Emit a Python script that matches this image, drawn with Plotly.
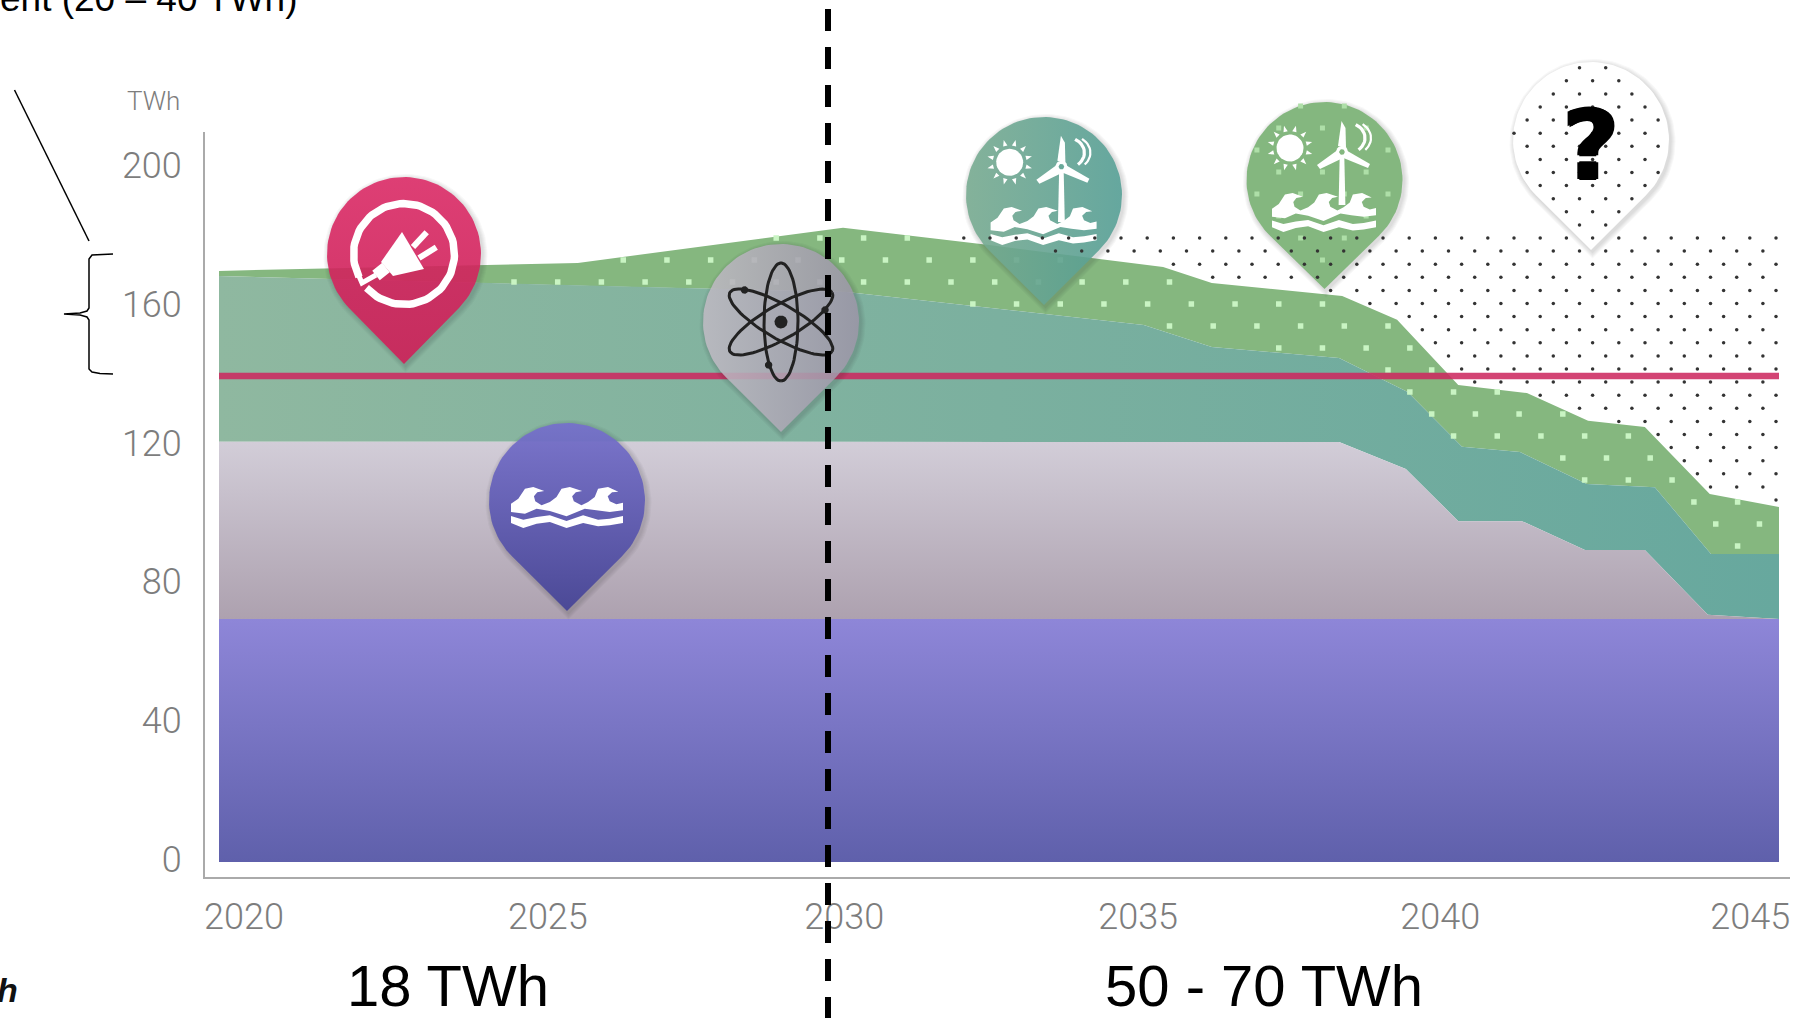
import numpy as np
import plotly.graph_objects as go

# Supply stack boundaries in TWh, one list of years per boundary
base_years = [2020, 2045]
base_twh = [70, 70]

hydro_years = [2020, 2037.95, 2039.02, 2039.86, 2040.88, 2041.89, 2042.85, 2043.86, 2045]
hydro_twh = [121.1, 121.0, 113.2, 98.2, 98.2, 89.9, 89.9, 71.2, 70.0]

nuclear_years = [2020, 2026.1, 2030.06, 2034.82, 2035.91, 2037.95, 2039.05, 2039.92,
                 2040.85, 2041.92, 2043.01, 2043.91, 2045]
nuclear_twh = [168.8, 165.9, 164.2, 154.7, 148.4, 145.2, 135.4, 119.6,
               118.1, 108.9, 108.0, 88.7, 88.7]

wind_years = [2020, 2025.75, 2030.0, 2032.31, 2035.13, 2035.91, 2038.0, 2038.88, 2039.86,
              2040.96, 2041.94, 2042.85, 2043.89, 2045]
wind_twh = [170.3, 172.6, 182.7, 177.8, 171.4, 166.8, 163.1, 156.2, 137.4,
            135.1, 127.1, 125.3, 106.0, 102.3]

demand_years = [2020, 2045]
demand_twh = [140, 140]

y_ticks = [0, 40, 80, 120, 160, 200]
y_tick_positions = [0.7, 40.7, 80.7, 120.7, 160.7, 200.7]
x_tick_positions = [2020.4, 2025.27, 2030.02, 2034.73, 2039.57, 2044.54]
x_tick_labels = ["2020", "2025", "2030", "2035", "2040", "2045"]

PAGE_W, PAGE_H = 1795, 1018
PX_PER_YEAR, PX_PER_TWH = 62.4, 3.471
X_2020, Y_ZERO = 219.0, 862.0

GREY = "#7d7d7d"
LIGHT_FONT = "Roboto"
BODY_FONT = "Liberation Sans"


def twh_to_px(twh):
    return Y_ZERO - np.asarray(twh, float) * PX_PER_TWH


def px_to_year(px):
    return 2020 + (px - X_2020) / PX_PER_YEAR


def px_to_twh(py):
    return (Y_ZERO - py) / PX_PER_TWH


fig = go.Figure()


def band(upper_x, upper_y, lower_x, lower_y, gradient=None, colour=None):
    xs = list(upper_x) + list(lower_x)[::-1]
    ys = list(upper_y) + list(lower_y)[::-1]
    kw = dict(fillgradient=gradient) if gradient else dict(fillcolor=colour)
    fig.add_trace(go.Scatter(x=xs, y=ys, mode="lines", fill="toself", line=dict(width=0),
                             hoverinfo="skip", showlegend=False, **kw))


zero = [0, 0]
band(wind_years, wind_twh, nuclear_years, nuclear_twh, colour="#85b77f")
band(nuclear_years, nuclear_twh, hydro_years, hydro_twh,
     gradient=dict(type="horizontal", colorscale=[[0, "#8fb8a0"], [1, "#67a89e"]]))
band(hydro_years, hydro_twh, base_years, base_twh,
     gradient=dict(type="vertical", colorscale=[[0, "#ada1af"], [1, "#d2cdd8"]]))
band(base_years, base_twh, base_years, zero,
     gradient=dict(type="vertical", colorscale=[[0, "#5f60ab"], [1, "#8e86d8"]]))

# Pale square texture across the upper band
sq_x, sq_y = [], []
for k in range(0, 17):
    row = 238 + 22 * k
    for m in range(-14, 30):
        px = 776.2 + 43.7 * m + (k % 2) * 21.85
        if px < X_2020 or px > 1779:
            continue
        yr = px_to_year(px)
        top = twh_to_px(np.interp(yr, wind_years, wind_twh))
        bottom = twh_to_px(np.interp(yr, nuclear_years, nuclear_twh))
        if top + 1 < row < bottom - 1:
            sq_x.append(yr)
            sq_y.append(px_to_twh(row))
fig.add_trace(go.Scatter(x=sq_x, y=sq_y, mode="markers", hoverinfo="skip", showlegend=False,
                         marker=dict(symbol="square", size=5.5, color="#c9f4c3", line=dict(width=0))))

fig.add_trace(go.Scatter(x=demand_years, y=demand_twh, mode="lines", hoverinfo="skip",
                         showlegend=False, line=dict(color="rgba(205,40,95,0.87)", width=6.5)))


def pin_outline(cx, cy, r, tip, grow=0.0, dx=0.0, dy=0.0):
    """Teardrop: circular head with straight tangents running down to the tip."""
    d = tip - cy
    rad = r + grow
    half = np.arccos(r / d)
    ang = np.linspace(half, 2 * np.pi - half, 90)
    xs = cx + rad * np.sin(ang) + dx
    ys = cy + rad * np.cos(ang) + dy
    xs = np.append(xs, [cx + dx, xs[0]])
    ys = np.append(ys, [tip + grow * 1.3 + dy, ys[0]])
    return xs, ys


def inside_pin(px, py, cx, cy, r, tip):
    if np.hypot(px - cx, py - cy) <= r:
        return True
    half = np.arccos(r / (tip - cy))
    if py <= cy:
        return False
    width = (tip - py) * np.tan(half)
    return abs(px - cx) < width and py > cy + r * np.cos(half)


def px_trace(xs, ys, **kw):
    fig.add_trace(go.Scatter(x=list(xs), y=list(ys), xaxis="x2", yaxis="y2",
                             hoverinfo="skip", showlegend=False, **kw))


def px_fill(xs, ys, colour):
    px_trace(xs, ys, mode="lines", fill="toself", fillcolor=colour, line=dict(width=0))


def px_line(xs, ys, colour="white", width=3.0):
    px_trace(xs, ys, mode="lines", line=dict(color=colour, width=width))


def draw_pin(cx, cy, r, tip, colour=None, gradient=None):
    for grow in (5, 4, 3, 2, 1):
        xs, ys = pin_outline(cx, cy, r, tip, grow=grow, dx=1.5, dy=2)
        px_fill(xs, ys, "rgba(40,40,40,0.03)")
    xs, ys = pin_outline(cx, cy, r, tip)
    kw = dict(fillgradient=gradient) if gradient else dict(fillcolor=colour)
    px_trace(xs, ys, mode="lines", fill="toself", line=dict(width=0), **kw)


PLUG = (404, 254, 77, 364)
WATER = (567, 501, 78, 611)
ATOM = (781, 322, 78, 432)
TEAL = (1044, 195, 78, 305)
GREEN = (1324.5, 180, 78, 289)
QUERY = (1591, 140, 78, 250)


def lattice_dots(test):
    xs, ys = [], []
    for n in range(-14, 50):
        row = 238 + 13.1 * n
        x0 = 1225.8 if n % 2 == 0 else 1212.7
        for m in range(-20, 30):
            px = x0 + 26.2 * m
            if test(px, row):
                xs.append(px)
                ys.append(row)
    return xs, ys


def wave_icon(x0, y0, w, h):
    crests = [(183, 310), (205, 295), (225, 265), (250, 260), (283, 272), (262, 276), (252, 288),
              (256, 303), (275, 315), (300, 305), (320, 290), (335, 265), (360, 260), (397, 272),
              (378, 276), (367, 288), (372, 303), (395, 315), (415, 305), (435, 290), (445, 265),
              (475, 260), (506, 274), (487, 276), (474, 288), (480, 303), (500, 312), (520, 307),
              (520, 330), (480, 335), (440, 330), (405, 325), (350, 348), (300, 332), (260, 325),
              (225, 340), (183, 335), (183, 310)]
    ribbon = [(183, 347), (220, 358), (260, 350), (300, 345), (350, 362), (400, 345), (445, 358),
              (480, 355), (520, 347), (520, 368), (480, 375), (445, 378), (400, 368), (350, 383),
              (300, 365), (260, 370), (220, 383), (183, 368), (183, 347)]
    for poly in (crests, ribbon):
        xs = [x0 + (p[0] - 183) / 337 * w for p in poly]
        ys = [y0 + (p[1] - 260) / 123 * h for p in poly]
        px_fill(xs, ys, "white")


def sun_icon(cx, cy, disc_colour="white"):
    t = np.linspace(0, 2 * np.pi, 40)
    px_fill(cx + 13.5 * np.cos(t), cy + 13.5 * np.sin(t), disc_colour)
    for a in np.arange(0, 2 * np.pi, 2 * np.pi / 12) + 0.26:
        pts_x = [cx + 23 * np.cos(a), cx + 17 * np.cos(a - 0.13), cx + 17 * np.cos(a + 0.13), cx + 23 * np.cos(a)]
        pts_y = [cy + 23 * np.sin(a), cy + 17 * np.sin(a - 0.13), cy + 17 * np.sin(a + 0.13), cy + 23 * np.sin(a)]
        px_fill(pts_x, pts_y, "white")


def turbine_icon(hx, hy, hub_colour, base_y):
    px_fill([hx - 2.2, hx + 2.2, hx + 3.4, hx - 3.4, hx - 2.2], [hy, hy, base_y, base_y, hy], "white")
    # Three tapered blades
    px_fill([hx - 4, hx - 0.5, hx + 3.5, hx + 4, hx - 4], [hy - 6, hy - 31, hy - 24, hy - 4, hy - 6], "white")
    px_fill([hx - 3, hx - 25, hx - 22, hx + 3, hx - 3], [hy - 3, hy + 13, hy + 17, hy + 5, hy - 3], "white")
    px_fill([hx + 2, hx + 28, hx + 26, hx - 1, hx + 2], [hy - 3, hy + 12, hy + 16, hy + 5, hy - 3], "white")
    t = np.linspace(0, 2 * np.pi, 24)
    px_fill(hx + 6 * np.cos(t), hy + 6 * np.sin(t), "white")
    px_fill(hx + 2.8 * np.cos(t), hy + 2.8 * np.sin(t), hub_colour)
    # Wind swooshes beside the blade
    a = np.linspace(-1.1, 0.9, 14)
    px_line(hx + 6 + 17 * np.cos(a), hy - 14 + 15 * np.sin(a), width=3.2)
    px_line(hx + 6 + 23 * np.cos(a * 0.8), hy - 14 + 18 * np.sin(a * 0.8), width=2.2)


# Plug marker
draw_pin(*PLUG, gradient=dict(type="vertical", colorscale=[[0, "rgba(205,35,90,0.92)"], [1, "rgba(222,35,98,0.85)"]]))
ring = np.radians(np.linspace(222, 567, 90))
px_line(404 + 50.5 * np.cos(ring), 254 - 50.5 * np.sin(ring), width=7.5)
px_line([358.5, 362, 376], [275, 283, 275], width=5)
px_line([376, 386], [275.5, 267.5], width=12)
px_fill([402, 424, 393, 381, 402], [232, 269, 276, 262, 232], "white")
px_line([413, 426.7], [247, 232.3], width=6)
px_line([419, 436.3], [258, 247.3], width=6)

# Hydro marker
draw_pin(*WATER, gradient=dict(type="vertical", colorscale=[[0, "rgba(72,70,150,0.96)"], [1, "rgba(118,112,205,0.92)"]]))
wave_icon(511, 487, 112, 41)

# Nuclear marker
draw_pin(*ATOM, gradient=dict(type="horizontal", colorscale=[[0, "rgba(195,190,199,0.85)"], [1, "rgba(158,152,170,0.85)"]]))
t = np.linspace(0, 2 * np.pi, 80)
for tilt in np.radians([90, 30, -30]):
    ex, ey = 59 * np.cos(t), 17 * np.sin(t)
    px_line(781 + ex * np.cos(tilt) - ey * np.sin(tilt), 322 + ex * np.sin(tilt) + ey * np.cos(tilt),
            colour="#222222", width=3)
px_fill(781 + 6.5 * np.cos(t), 322 + 6.5 * np.sin(t), "#222222")
for ex_x, ex_y in [(744.5, 290), (825, 310), (768.6, 365)]:
    px_fill(ex_x + 3.8 * np.cos(t), ex_y + 3.8 * np.sin(t), "#222222")

# Offshore marker (teal)
draw_pin(*TEAL, gradient=dict(type="horizontal", colorscale=[[0, "rgba(120,172,145,0.88)"], [1, "rgba(85,160,150,0.88)"]]))
sun_icon(1009.7, 162.3)
turbine_icon(1061.4, 166.7, "#6aa99a", 222)
wave_icon(990.6, 207, 106, 38)

# Offshore marker (green)
draw_pin(*GREEN, colour="#84b77f")
gx, gy = [], []
for k in range(-7, 3):
    row = 238 + 22 * k
    for m in range(0, 30):
        px = 776.2 + 43.7 * m + (k % 2) * 21.85
        if inside_pin(px, row, *GREEN):
            gx.append(px)
            gy.append(row)
px_trace(gx, gy, mode="markers", marker=dict(symbol="square", size=5, color="#aedfa8", line=dict(width=0)))
sun_icon(1290, 148)
turbine_icon(1342, 152, "#84b77f", 205)
wave_icon(1272, 193, 104, 39)


# Black dots in the open region above the stack, passing over the offshore markers
def open_field(px, py):
    if py < 237 or px < 930 or px > 1779:
        return False
    return py < twh_to_px(np.interp(px_to_year(px), wind_years, wind_twh)) - 2


fx, fy = lattice_dots(open_field)
px_trace(fx, fy, mode="markers", marker=dict(symbol="circle", size=3.5, color="#333333", line=dict(width=0)))

# Open question marker
draw_pin(*QUERY, colour="white")
qx, qy = lattice_dots(lambda a, b: inside_pin(a, b, *QUERY))
px_trace(qx, qy, mode="markers", marker=dict(symbol="circle", size=3.5, color="#333333", line=dict(width=0)))

# Brace and leader line on the left
px_line([14.5, 89], [90, 241], colour="black", width=1.5)
brace_x = [113, 100, 92, 89, 89, 87, 80, 64, 80, 87, 89, 89, 92, 100, 113]
brace_y = [254, 254.5, 255, 259, 308, 311, 313, 314, 315, 317, 320, 369, 372, 373.5, 374]
px_line(brace_x, brace_y, colour="black", width=1.5)

# Dashed divider at 2030
px_line([828, 828], [9, 1018], colour="black", width=6)
fig.data[-1].line.dash = "22px,16px"

anns = [
    dict(x=300, y=14, text="ent (20 – 40 TWh)", xanchor="right", yanchor="bottom", yshift=-7,
         font=dict(family=BODY_FONT, size=37, color="black")),
    dict(x=448, y=985, text="18 TWh", xanchor="center", yanchor="middle",
         font=dict(family=BODY_FONT, size=58, color="black")),
    dict(x=1264, y=985, text="50 - 70 TWh", xanchor="center", yanchor="middle",
         font=dict(family=BODY_FONT, size=58, color="black")),
    dict(x=182, y=101, text="TWh", xanchor="right", yanchor="middle",
         font=dict(family=LIGHT_FONT, size=26, color=GREY, weight=300)),
    dict(x=1591, y=146, text="?", xanchor="center", yanchor="middle",
         font=dict(family="DejaVu Sans", size=96, color="black", weight=700,
                   shadow="2px 0 0 #000, -2px 0 0 #000, 0 1px 0 #000, 0 -1px 0 #000")),
    dict(x=20, y=990, text="<b><i>sh</i></b>", xanchor="right", yanchor="middle",
         font=dict(family=BODY_FONT, size=34, color="#111111")),
    dict(x=3, y=1025, text="<b><i>A</i></b>", xanchor="center", yanchor="middle",
         font=dict(family=BODY_FONT, size=36, color="#111111")),
]
for a in anns:
    a.update(xref="x2", yref="y2", showarrow=False)

fig.update_layout(
    template="none",
    width=PAGE_W, height=PAGE_H, autosize=False,
    margin=dict(l=0, r=0, t=0, b=0, pad=0),
    paper_bgcolor="white", plot_bgcolor="rgba(0,0,0,0)",
    showlegend=False, annotations=anns,
    xaxis=dict(
        domain=[205 / PAGE_W, 1790 / PAGE_W],
        range=[px_to_year(205), px_to_year(1790)],
        tickmode="array", tickvals=x_tick_positions, ticktext=x_tick_labels,
        ticks="outside", ticklen=7, tickcolor="rgba(0,0,0,0)", showgrid=False, zeroline=False,
        showline=True, linecolor="#aaaaaa", linewidth=2, automargin=False,
        tickfont=dict(family=LIGHT_FONT, size=36, color=GREY, weight=300),
    ),
    yaxis=dict(
        domain=[(PAGE_H - 877) / PAGE_H, (PAGE_H - 132) / PAGE_H],
        range=[px_to_twh(877), px_to_twh(132)],
        tickmode="array", tickvals=y_tick_positions, ticktext=[str(v) for v in y_ticks],
        ticks="outside", ticklen=14, tickcolor="rgba(0,0,0,0)", showgrid=False, zeroline=False,
        showline=True, linecolor="#aaaaaa", linewidth=2, automargin=False,
        tickfont=dict(family=LIGHT_FONT, size=36, color=GREY, weight=300),
    ),
    xaxis2=dict(domain=[0, 1], range=[0, PAGE_W], visible=False, anchor="y2", fixedrange=True, automargin=False),
    yaxis2=dict(domain=[0, 1], range=[PAGE_H, 0], visible=False, anchor="x2", fixedrange=True, automargin=False),
)

fig.write_html("out.html")
